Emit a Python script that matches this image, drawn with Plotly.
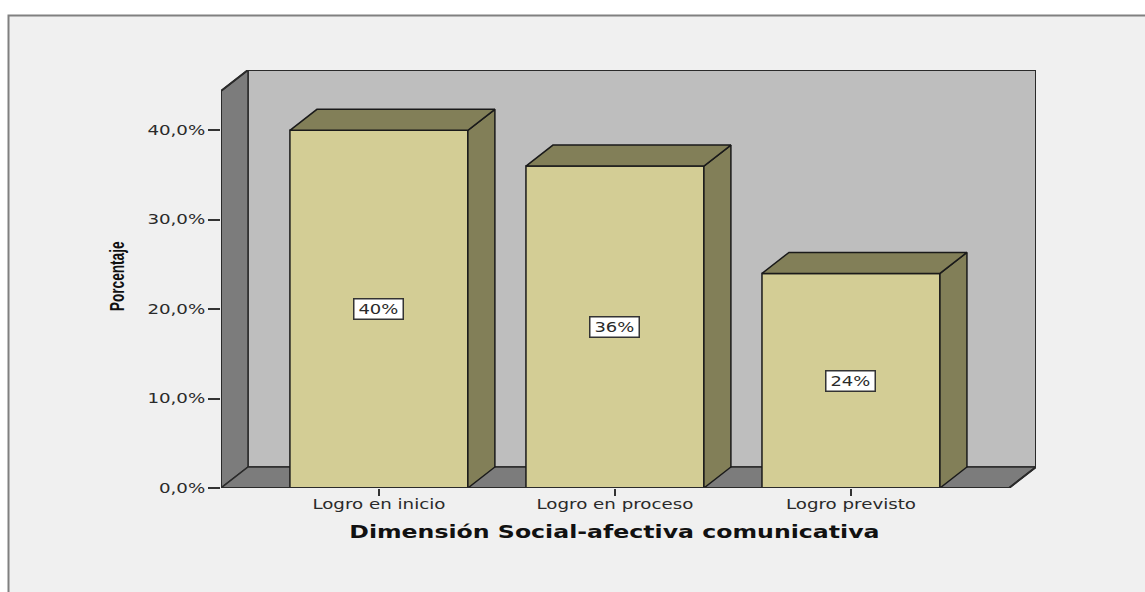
import plotly.graph_objects as go

categories = ["Logro en inicio", "Logro en proceso", "Logro previsto"]
percentages = [40, 36, 24]
bar_labels = ["40%", "36%", "24%"]
y_ticks = [0, 10, 20, 30, 40]
y_tick_labels = ["0,0%", "10,0%", "20,0%", "30,0%", "40,0%"]
x_title = "Dimensión Social-afectiva comunicativa"
y_title = "Porcentaje"

WIDTH, HEIGHT = 1145, 592
LEFT, RIGHT, TOP, BOTTOM = 221, 1036, 70, 488
PLOT_W, PLOT_H = RIGHT - LEFT, BOTTOM - TOP

DEPTH_X, DEPTH_Y = 0.1144, 2.35
BAR_W = 0.754
X_MIN, X_MAX = -0.669, 2.784 - DEPTH_X
Y_MAX = 44.4

FRONT = "#d3cd95"
SIDE = "#827f58"
WALL = "#7c7c7c"
BACK = "#bebebe"
PANEL = "#f0f0f0"
EDGE = "#1a1a1a"
TEXT = "#2a2a2a"
FONT = "DejaVu Sans"

fig = go.Figure()
xs = list(range(len(categories)))

fig.add_trace(go.Bar(x=xs, y=percentages, width=BAR_W,
                     marker=dict(color=FRONT, line=dict(color=EDGE, width=1.5)),
                     hoverinfo="skip"))

for c, v in zip(xs, percentages):
    l, r = c - BAR_W / 2, c + BAR_W / 2
    fig.add_trace(go.Scatter(x=[r, r + DEPTH_X, r + DEPTH_X, r, r],
                             y=[0, DEPTH_Y, v + DEPTH_Y, v, 0],
                             mode="lines", fill="toself", fillcolor=SIDE,
                             line=dict(color=EDGE, width=1.5), hoverinfo="skip"))
    fig.add_trace(go.Scatter(x=[l, l + DEPTH_X, r + DEPTH_X, r, l],
                             y=[v, v + DEPTH_Y, v + DEPTH_Y, v, v],
                             mode="lines", fill="toself", fillcolor=SIDE,
                             line=dict(color=EDGE, width=1.5), hoverinfo="skip"))

# outer contour of the 3D box, unclipped so its edge lines keep full width
fig.add_trace(go.Scatter(
    x=[X_MAX, X_MIN, X_MIN, X_MIN + DEPTH_X, X_MAX + DEPTH_X, X_MAX + DEPTH_X, X_MAX],
    y=[0, 0, Y_MAX, Y_MAX + DEPTH_Y, Y_MAX + DEPTH_Y, DEPTH_Y, 0],
    mode="lines", line=dict(color="#2a2a2a", width=2), cliponaxis=False, hoverinfo="skip"))

def poly(pts):
    return "M " + " L ".join(f"{a} {b}" for a, b in pts) + " Z"

box_line = dict(color="#2a2a2a", width=1.5)
shapes = [
    # panel behind everything
    dict(type="rect", xref="paper", yref="paper", layer="below",
         x0=(8.5 - LEFT) / PLOT_W, x1=(WIDTH + 10 - LEFT) / PLOT_W,
         y0=(BOTTOM - HEIGHT - 10) / PLOT_H, y1=(BOTTOM - 15.5) / PLOT_H,
         fillcolor=PANEL, line=dict(color="#808080", width=2)),
    # back wall
    dict(type="path", xref="x", yref="y", layer="below", fillcolor=BACK, line=box_line,
         path=poly([(X_MIN + DEPTH_X, DEPTH_Y), (X_MAX + DEPTH_X, DEPTH_Y),
                    (X_MAX + DEPTH_X, Y_MAX + DEPTH_Y), (X_MIN + DEPTH_X, Y_MAX + DEPTH_Y)])),
    # left wall
    dict(type="path", xref="x", yref="y", layer="below", fillcolor=WALL, line=box_line,
         path=poly([(X_MIN, 0), (X_MIN + DEPTH_X, DEPTH_Y),
                    (X_MIN + DEPTH_X, Y_MAX + DEPTH_Y), (X_MIN, Y_MAX)])),
    # floor
    dict(type="path", xref="x", yref="y", layer="below", fillcolor=WALL, line=box_line,
         path=poly([(X_MIN, 0), (X_MAX, 0), (X_MAX + DEPTH_X, DEPTH_Y), (X_MIN + DEPTH_X, DEPTH_Y)])),
]

annotations = [
    dict(x=c, y=v / 2, text=t, showarrow=False, bgcolor="#ffffff", width=46, height=17,
         bordercolor="#333333", borderwidth=1.5, borderpad=1,
         font=dict(family=FONT, size=13.5, color=TEXT))
    for c, v, t in zip(xs, percentages, bar_labels)
]
annotations.append(dict(x=1, xref="x", y=(BOTTOM - 532) / PLOT_H, yref="paper", yanchor="middle",
                        text=x_title, showarrow=False,
                        font=dict(family=FONT, size=17.5, weight="bold", color="#111111")))
annotations.append(dict(x=(116 - LEFT) / PLOT_W, xref="paper", xanchor="center",
                        y=(BOTTOM - 277) / PLOT_H, yref="paper", yanchor="middle",
                        text=y_title, textangle=-90, showarrow=False,
                        font=dict(family="Liberation Sans", size=21, weight="bold", color="#111111")))

fig.update_layout(
    width=WIDTH, height=HEIGHT, showlegend=False, barmode="overlay",
    margin=dict(l=LEFT, r=WIDTH - RIGHT, t=TOP, b=HEIGHT - BOTTOM, pad=0),
    paper_bgcolor="#ffffff", plot_bgcolor="rgba(0,0,0,0)",
    shapes=shapes, annotations=annotations,
    xaxis=dict(range=[X_MIN, X_MAX + DEPTH_X], tickvals=xs, ticktext=categories,
               ticks="outside", ticklen=7, tickwidth=1.5, tickcolor="#333333",
               ticklabelstandoff=-3,
               showgrid=False, zeroline=False, showline=False,
               tickfont=dict(family=FONT, size=13.5, color=TEXT)),
    yaxis=dict(range=[0, Y_MAX + DEPTH_Y], tickvals=y_ticks, ticktext=y_tick_labels,
               ticks="outside", ticklen=12, tickwidth=1.5, tickcolor="#333333",
               showgrid=False, zeroline=False, showline=False,
               tickfont=dict(family=FONT, size=13.5, color=TEXT)),
)

# The reference's text is stretched horizontally (and its y title squeezed):
# reproduce that by adjusting the glyph advance of the real text elements.
stretch_js = """
document.body.style.margin='0';document.body.style.overflow='hidden';
function stretch(el,k){var n=el.getComputedTextLength();
 el.setAttribute('textLength',n*k);el.setAttribute('lengthAdjust','spacingAndGlyphs');}
document.querySelectorAll('.xtick text,.ytick text').forEach(function(e){stretch(e,1.35);});
var a=document.querySelectorAll('.annotation-text');
a.forEach(function(e){var t=e.textContent;
 stretch(e,t.indexOf('%')>=0?1.33:(t.indexOf('Dimen')==0?1.35:0.65));});
"""
fig.write_html("out.html", config=dict(displayModeBar=False), post_script=stretch_js)
